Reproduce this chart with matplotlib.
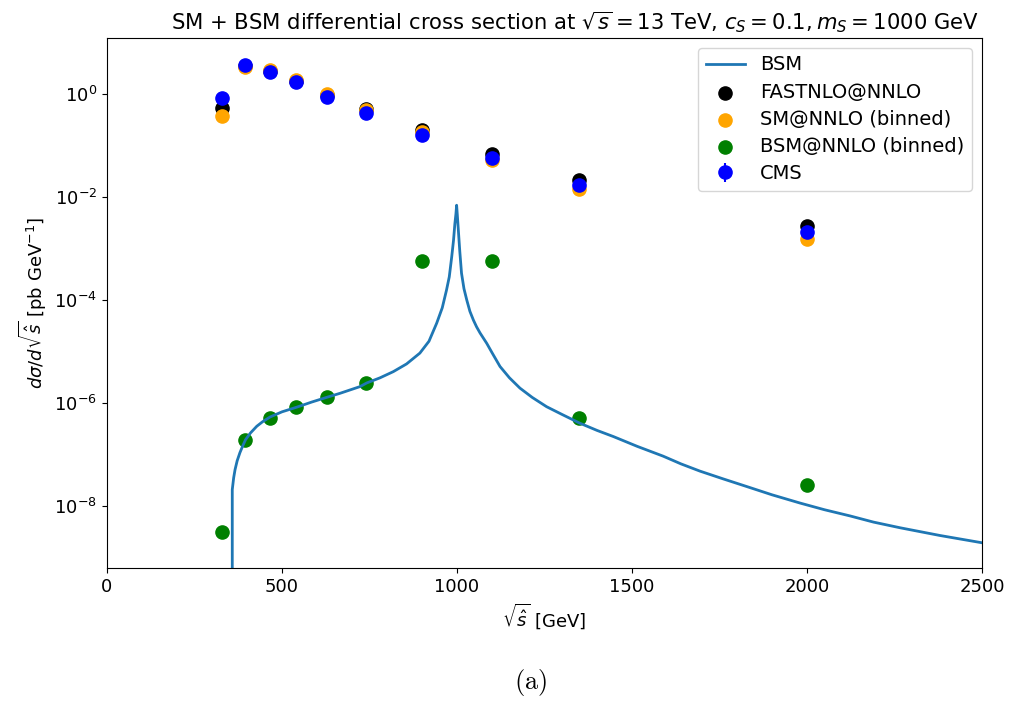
import numpy as np
import matplotlib
matplotlib.use('Agg')
import matplotlib.pyplot as plt

# bin centres of the ttbar invariant mass bins (GeV)
bin_centres = [330, 395, 465, 540, 630, 740, 900, 1100, 1350, 2000]

# differential cross sections (pb/GeV)
fastnlo = [0.53, 3.5, 2.8, 1.8, 0.95, 0.51, 0.20, 0.067, 0.0214, 0.00274]
sm_binned = [0.38, 3.3, 2.9, 1.87, 1.0, 0.48, 0.18, 0.052, 0.0141, 0.00151]
bsm_binned = [3.1e-9, 1.9e-7, 5.1e-7, 8.5e-7, 1.31e-6, 2.45e-6, 5.7e-4, 5.7e-4, 5.1e-7, 2.56e-8]
cms = [0.85, 3.66, 2.7, 1.69, 0.89, 0.42, 0.16, 0.056, 0.0171, 0.00213]
cms_err = [0.05, 0.15, 0.1, 0.06, 0.03, 0.015, 0.006, 0.003, 0.001, 0.0002]

# BSM curve (GeV, log10 of pb/GeV)
bsm_x = [358, 358, 362, 366, 372, 380, 388, 396, 410, 428, 445, 466, 500, 542,
         585, 632, 666, 723, 742, 780, 818, 856, 894, 920, 942, 958, 970, 978,
         985, 990, 994, 997, 999, 1001, 1004, 1008, 1013, 1020, 1028, 1037,
         1047, 1056, 1066, 1085, 1100, 1123, 1150, 1180, 1215, 1256, 1300,
         1351, 1400, 1447, 1515, 1589, 1640, 1694, 1760, 1837, 1900, 1980,
         2050, 2123, 2190, 2266, 2380, 2499]
bsm_log = [-12.0, -7.68, -7.45, -7.29, -7.12, -6.96, -6.83, -6.71, -6.58, -6.45,
           -6.36, -6.27, -6.17, -6.08, -5.98, -5.88, -5.81, -5.68, -5.61, -5.51,
           -5.39, -5.24, -5.03, -4.80, -4.45, -4.15, -3.81, -3.55, -3.16, -2.85,
           -2.52, -2.33, -2.16, -2.35, -2.65, -3.05, -3.48, -3.78, -4.0, -4.22,
           -4.39, -4.52, -4.64, -4.84, -5.02, -5.29, -5.51, -5.71, -5.89, -6.07,
           -6.22, -6.39, -6.53, -6.65, -6.84, -7.03, -7.18, -7.32, -7.47, -7.64,
           -7.78, -7.94, -8.07, -8.19, -8.31, -8.42, -8.57, -8.71]
bsm_y = 10.0 ** np.array(bsm_log)

plt.rcParams['font.size'] = 13

fig = plt.figure(figsize=(10.11, 7.02), dpi=100)
ax = fig.add_axes([0.1058, 0.1909, 0.8655, 0.7550])

ax.plot(bsm_x, bsm_y, color='#1f77b4', lw=2, label='BSM')
ax.scatter(bin_centres, fastnlo, color='black', s=90, label='FASTNLO@NNLO')
ax.scatter(bin_centres, sm_binned, color='orange', s=90, label='SM@NNLO (binned)')
ax.scatter(bin_centres, bsm_binned, color='green', s=90, label='BSM@NNLO (binned)')
ax.errorbar(bin_centres, cms, yerr=cms_err, fmt='o', color='blue', ms=9.5,
            label='CMS')

ax.set_yscale('log')
ax.set_xlim(0, 2500)
ax.set_ylim(6.3e-10, 12.2)
ax.set_yticks([1e-8, 1e-6, 1e-4, 1e-2, 1e0])
ax.minorticks_off()
ax.set_xlabel(r'$\sqrt{\hat{s}}$ [GeV]')
ax.set_ylabel(r'$d\sigma/d\sqrt{\hat{s}}$ [pb GeV$^{-1}$]')
ax.set_title(r'SM + BSM differential cross section at $\sqrt{s}=13$ TeV, $c_S=0.1, m_S=1000$ GeV',
             fontsize=15.2, x=0.535)
ax.legend(loc='upper right', fontsize=14, labelspacing=0.42)

fig.text(0.525, 0.018, r'$\mathrm{(a)}$', math_fontfamily='cm', fontsize=19,
         ha='center', va='baseline')

fig.savefig('out.png', dpi=100)
